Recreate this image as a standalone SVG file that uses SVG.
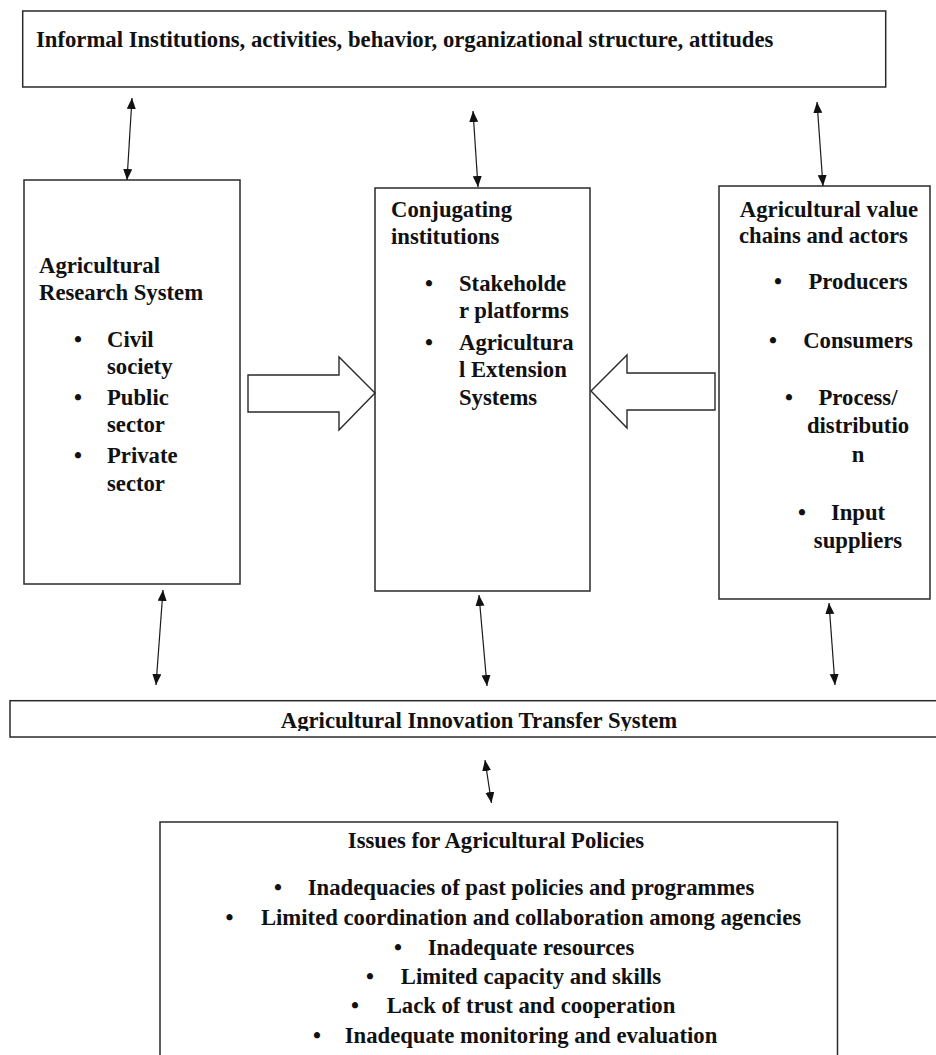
<svg xmlns="http://www.w3.org/2000/svg" width="936" height="1055" viewBox="0 0 936 1055">
<style>
  .box { fill: #ffffff; stroke: #2a2a2a; stroke-width: 1.5; }
  .t { font-family: "Liberation Serif", "Times New Roman", serif; font-weight: bold; font-size: 22.7px; fill: #111111; }
  .m { text-anchor: middle; }
  .conn { stroke: #1a1a1a; stroke-width: 1.2; fill: none; marker-start: url(#ah); marker-end: url(#ah); }
  .blk { fill: #ffffff; stroke: #2a2a2a; stroke-width: 1.4; stroke-linejoin: miter; }
</style>
<defs>
  <marker id="ah" markerUnits="userSpaceOnUse" markerWidth="12" markerHeight="10" refX="11" refY="4.5" orient="auto-start-reverse">
    <path d="M0,0 L11,4.5 L0,9 z" fill="#111111"/>
  </marker>
  <clipPath id="clipInnov">
    <rect x="10" y="700" width="926" height="31"/>
  </clipPath>
</defs>
<rect width="936" height="1055" fill="#ffffff"/>

<g id="informal">
  <rect class="box" x="22.7" y="11" width="863" height="76"/>
  <text class="t" x="36" y="47">Informal Institutions, activities, behavior, organizational structure, attitudes</text>
</g>

<g id="research">
  <rect class="box" x="24" y="180" width="216" height="404"/>
  <text class="t" x="39" y="273">Agricultural</text>
  <text class="t" x="39" y="300">Research System</text>
  <text class="t m" x="78" y="347">•</text>
  <text class="t" x="107" y="347">Civil</text>
  <text class="t" x="107" y="374">society</text>
  <text class="t m" x="78" y="405">•</text>
  <text class="t" x="107" y="405">Public</text>
  <text class="t" x="107" y="432">sector</text>
  <text class="t m" x="78" y="463">•</text>
  <text class="t" x="107" y="463">Private</text>
  <text class="t" x="107" y="491">sector</text>
</g>

<g id="conjugating">
  <rect class="box" x="375" y="188" width="215" height="403"/>
  <text class="t" x="391" y="217">Conjugating</text>
  <text class="t" x="391" y="244">institutions</text>
  <text class="t m" x="429" y="291">•</text>
  <text class="t" x="459" y="291">Stakeholde</text>
  <text class="t" x="459" y="318">r platforms</text>
  <text class="t m" x="429" y="350">•</text>
  <text class="t" x="459" y="350">Agricultura</text>
  <text class="t" x="459" y="377">l Extension</text>
  <text class="t" x="459" y="405">Systems</text>
</g>

<g id="valuechains">
  <rect class="box" x="719" y="186" width="211" height="413"/>
  <text class="t m" x="829" y="217">Agricultural value</text>
  <text class="t m" x="823.5" y="243">chains and actors</text>
  <text class="t m" x="778" y="289">•</text>
  <text class="t m" x="858" y="289">Producers</text>
  <text class="t m" x="773" y="348">•</text>
  <text class="t m" x="858" y="348">Consumers</text>
  <text class="t m" x="789" y="405">•</text>
  <text class="t m" x="858" y="405">Process/</text>
  <text class="t m" x="858" y="433">distributio</text>
  <text class="t m" x="858" y="462">n</text>
  <text class="t m" x="802" y="520">•</text>
  <text class="t m" x="858" y="520">Input</text>
  <text class="t m" x="858" y="548">suppliers</text>
</g>

<g id="innovation">
  <rect class="box" x="10" y="700.7" width="940" height="36.3"/>
  <text class="t m" x="479" y="728" clip-path="url(#clipInnov)">Agricultural Innovation Transfer System</text>
</g>

<g id="issues">
  <rect class="box" x="160" y="822" width="677.5" height="300"/>
  <text class="t m" x="496" y="848">Issues for Agricultural Policies</text>
  <text class="t m" x="278" y="895">•</text>
  <text class="t m" x="531" y="895">Inadequacies of past policies and programmes</text>
  <text class="t m" x="229.5" y="925">•</text>
  <text class="t m" x="531" y="925">Limited coordination and collaboration among agencies</text>
  <text class="t m" x="398" y="955">•</text>
  <text class="t m" x="531" y="955">Inadequate resources</text>
  <text class="t m" x="370" y="984">•</text>
  <text class="t m" x="531" y="984">Limited capacity and skills</text>
  <text class="t m" x="355" y="1013">•</text>
  <text class="t m" x="531" y="1013">Lack of trust and cooperation</text>
  <text class="t m" x="317" y="1043">•</text>
  <text class="t m" x="531" y="1043">Inadequate monitoring and evaluation</text>
</g>

<g id="connectors">
  <line class="conn" x1="132" y1="98" x2="127" y2="180"/>
  <line class="conn" x1="473" y1="111" x2="478" y2="187"/>
  <line class="conn" x1="817" y1="102" x2="823" y2="186"/>
  <line class="conn" x1="163" y1="590" x2="156" y2="685"/>
  <line class="conn" x1="479" y1="595" x2="487" y2="686"/>
  <line class="conn" x1="829" y1="603" x2="835" y2="685"/>
  <line class="conn" x1="485" y1="760" x2="491.5" y2="803"/>
  <polygon class="blk" points="248,375 339,375 339,357 375,393 339,430 339,412 248,412"/>
  <polygon class="blk" points="591,391 627,355 627,373 715,373 715,410 627,410 627,428"/>
</g>
</svg>
